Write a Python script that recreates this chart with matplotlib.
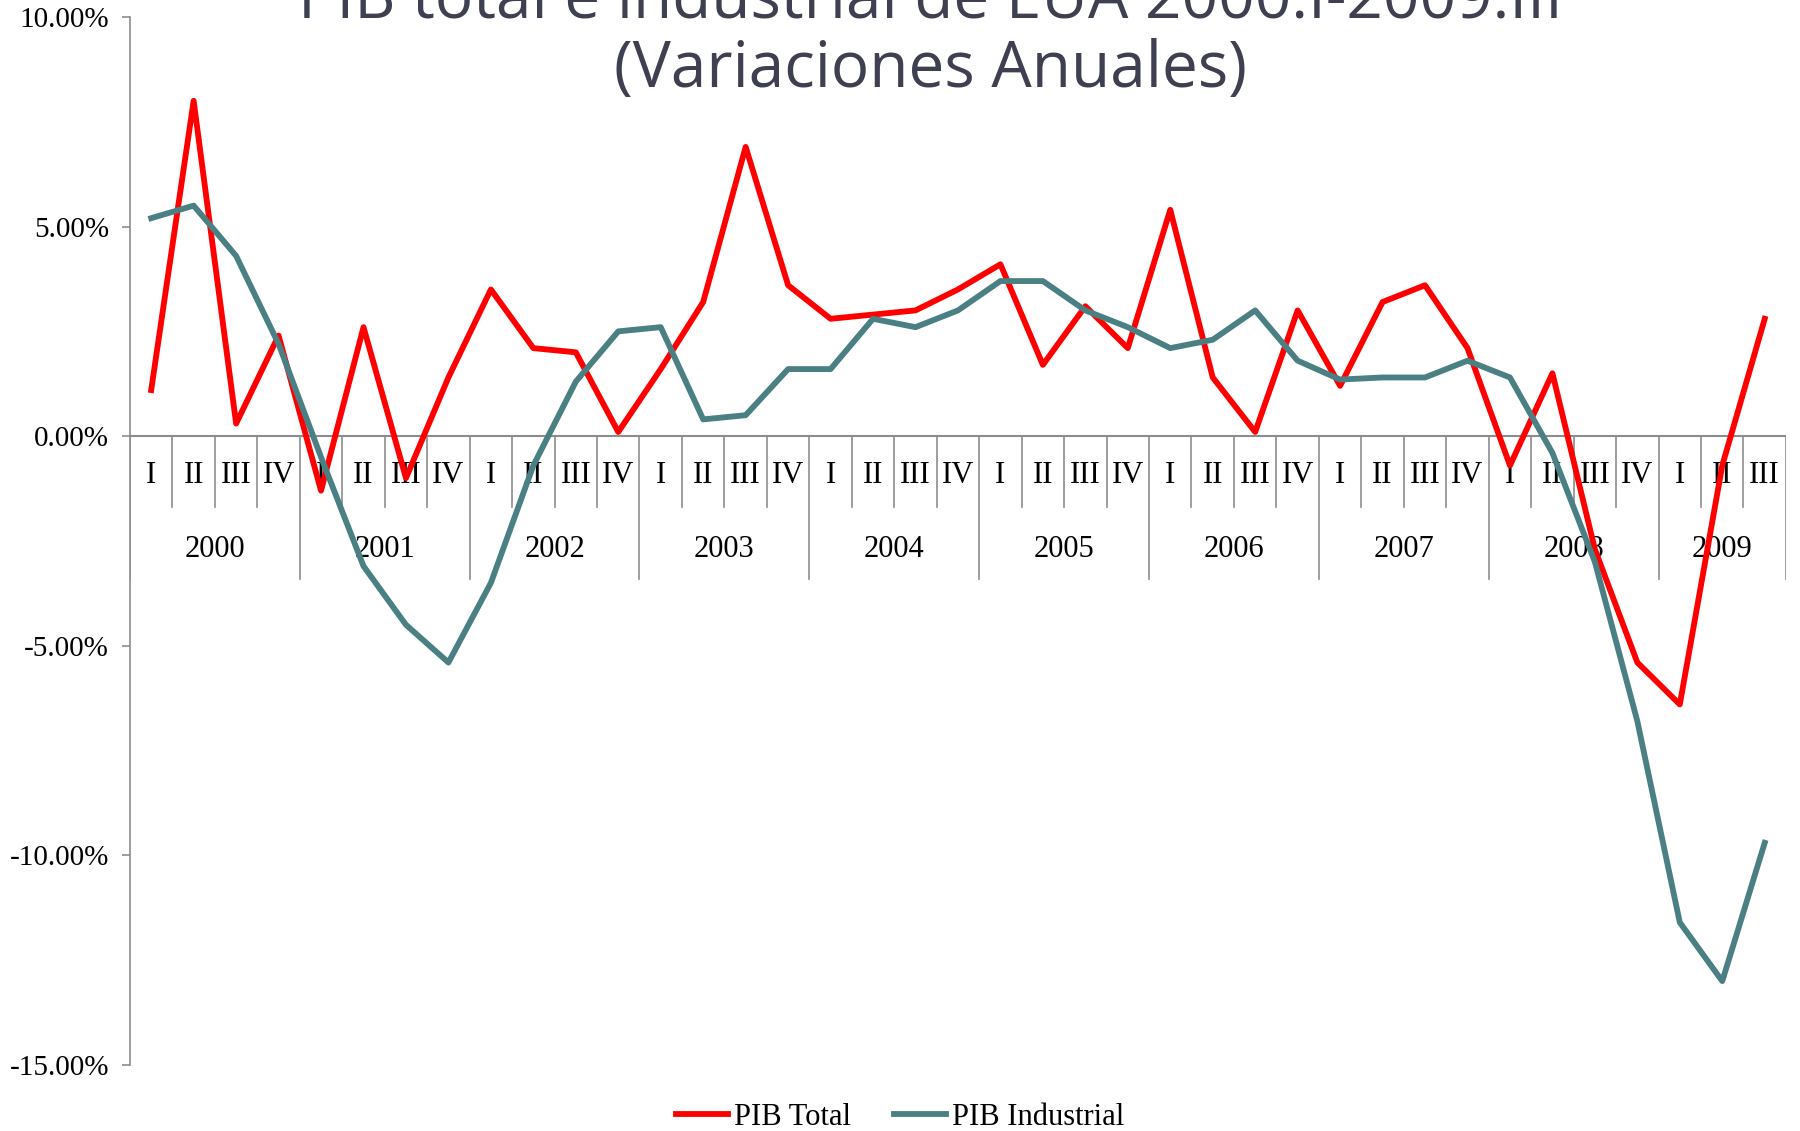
import matplotlib
matplotlib.use("Agg")
import matplotlib.pyplot as plt
import numpy as np

years = ["2000", "2001", "2002", "2003", "2004", "2005", "2006", "2007", "2008", "2009"]
quarters = ["I", "II", "III", "IV"]
n_quarters = 39  # 2000.I - 2009.III

pib_total = [1.1, 8.0, 0.3, 2.4,
             -1.3, 2.6, -1.0, 1.4,
             3.5, 2.1, 2.0, 0.1,
             1.6, 3.2, 6.9, 3.6,
             2.8, 2.9, 3.0, 3.5,
             4.1, 1.7, 3.1, 2.1,
             5.4, 1.4, 0.1, 3.0,
             1.2, 3.2, 3.6, 2.1,
             -0.7, 1.5, -2.7, -5.4,
             -6.4, -0.7, 2.8]

pib_industrial = [5.2, 5.5, 4.3, 2.2,
                  -0.5, -3.1, -4.5, -5.4,
                  -3.5, -0.7, 1.3, 2.5,
                  2.6, 0.4, 0.5, 1.6,
                  1.6, 2.8, 2.6, 3.0,
                  3.7, 3.7, 3.0, 2.6,
                  2.1, 2.3, 3.0, 1.8,
                  1.35, 1.4, 1.4, 1.8,
                  1.4, -0.4, -3.0, -6.8,
                  -11.6, -13.0, -9.7]

red = "#ff0000"
teal = "#4a8084"
grey = "#8c8c8c"
serif = ["Liberation Serif", "DejaVu Serif"]
fs = 22

fig = plt.figure(figsize=(18, 11.31), dpi=100)
ax = fig.add_axes([0.0722, 0.0584, 0.92, 0.9266])

x = np.arange(n_quarters)
ax.plot(x, pib_total, color=red, lw=4.2, label="PIB Total", zorder=3)
ax.plot(x, pib_industrial, color=teal, lw=4.2, label="PIB Industrial", zorder=3)

ax.set_xlim(-0.5, n_quarters - 0.5)
ax.set_ylim(-15, 10)
ax.set_yticks([10, 5, 0, -5, -10, -15])
ax.set_yticklabels(["%.2f%%" % v for v in [10, 5, 0, -5, -10, -15]],
                   fontfamily=serif, fontsize=21)
ax.tick_params(axis="y", length=6, color=grey, width=1.2, pad=9)
ax.set_xticks([])

for s in ["top", "right", "bottom"]:
    ax.spines[s].set_visible(False)
ax.spines["left"].set_color(grey)
ax.spines["left"].set_linewidth(1.2)

# category axis drawn at zero
ax.plot([-0.5, n_quarters - 0.5], [0, 0], color=grey, lw=1.5, zorder=1)
for i in range(n_quarters + 1):
    pos = i - 0.5
    if i % 4 == 0 or i == n_quarters:
        ax.plot([pos, pos], [0, -3.4], color=grey, lw=1.2, zorder=1)
    else:
        ax.plot([pos, pos], [0, -1.7], color=grey, lw=1.2, zorder=1)

for i in range(n_quarters):
    ax.text(i, -0.95, quarters[i % 4], ha="center", va="center",
            fontfamily=serif, fontsize=fs, zorder=2)

for k, yr in enumerate(years):
    start = k * 4
    end = min(start + 4, n_quarters)
    ax.text((start + end - 1) / 2, -2.7, yr, ha="center", va="center",
            fontfamily=serif, fontsize=fs, zorder=2)

fig.text(0.517, 1.0, "PIB total e industrial de EUA 2000.I-2009.III",
         ha="center", va="center", fontsize=46, color="#3f3f52",
         family=["Open Sans", "DejaVu Sans"])
fig.text(0.517, 0.938, "(Variaciones Anuales)",
         ha="center", va="center", fontsize=46, color="#3f3f52",
         family=["Open Sans", "DejaVu Sans"])

fig.legend(loc="center", bbox_to_anchor=(0.5, 0.012), ncol=2, frameon=False,
           prop={"family": serif, "size": fs}, handlelength=1.7,
           columnspacing=1.4, handletextpad=0.2)

fig.savefig("out.png", dpi=100)
